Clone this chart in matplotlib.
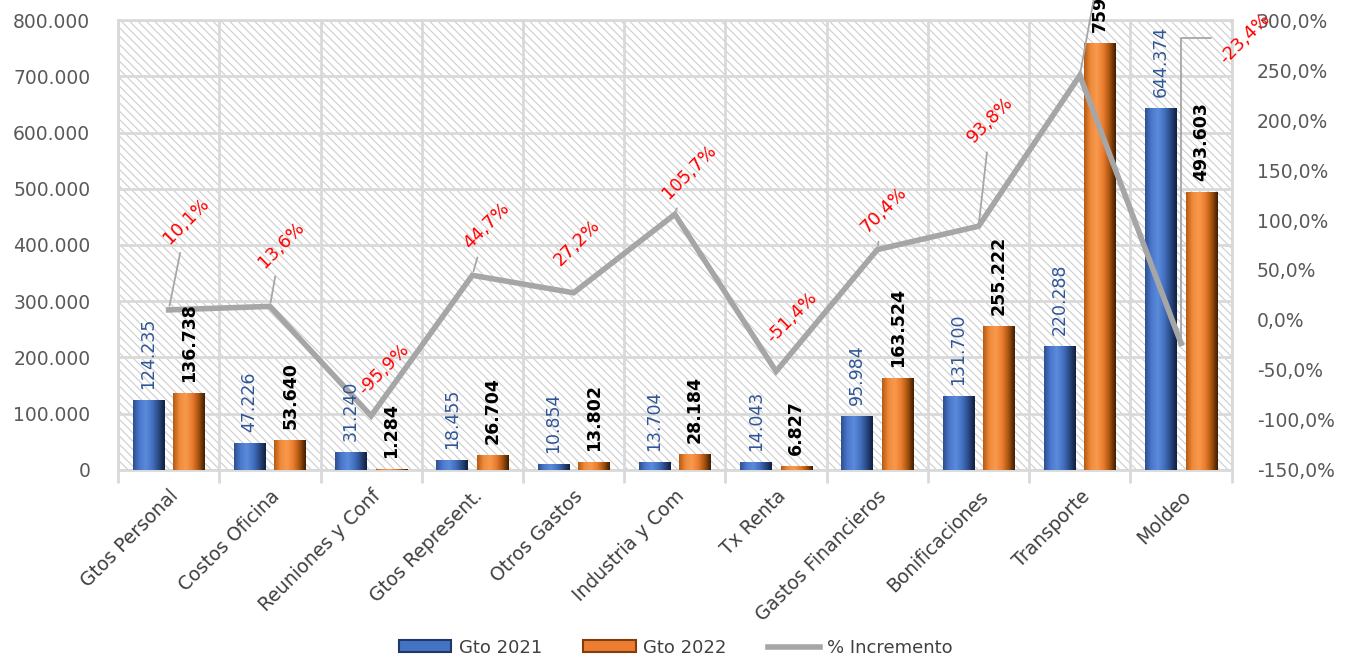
import numpy as np
import matplotlib
matplotlib.use("Agg")
import matplotlib.pyplot as plt
from matplotlib.patches import Patch, Rectangle
from matplotlib.lines import Line2D
from matplotlib.colors import LinearSegmentedColormap

# ─── Datos ───────────────────────────────────────────────────────────────────
categorias = ["Gtos Personal", "Costos Oficina", "Reuniones y Conf", "Gtos Represent.",
              "Otros Gastos", "Industria y Com", "Tx Renta", "Gastos Financieros",
              "Bonificaciones", "Transporte", "Moldeo"]
gto_2021 = [124235, 47226, 31240, 18455, 10854, 13704, 14043, 95984, 131700, 220288, 644374]
gto_2022 = [136738, 53640, 1284, 26704, 13802, 28184, 6827, 163524, 255222, 759150, 493603]
incremento = [10.1, 13.6, -95.9, 44.7, 27.2, 105.7, -51.4, 70.4, 93.8, 244.6, -23.4]

# desplazamiento (px) de cada etiqueta de % respecto a su punto, y si lleva línea guía
off_pct = [(18, 89), (11, 62), (13, 46), (14, 50), (3, 50), (14, 42),
           (16, 54), (6, 40), (12, 106), (22, 120), (64, 305)]
guia_pct = [True, True, False, True, False, True, False, True, True, True, True]

# ─── Estilo ──────────────────────────────────────────────────────────────────
plt.rcParams.update({
    "font.family": "DejaVu Sans",
    "hatch.linewidth": 0.8,
})

AZUL = "#4472C4"
AZUL_TXT = "#2F5597"
NARANJA = "#ED7D31"
GRIS = "#A6A6A6"
REJILLA = "#D9D9D9"
TXT = "#595959"

cmap_azul = LinearSegmentedColormap.from_list(
    "azul", ["#2E4F8F", "#4A78CC", "#5B8BDB", "#4472C4", "#2B4A85", "#0F1F3D"])
cmap_naranja = LinearSegmentedColormap.from_list(
    "naranja", ["#B35A12", "#F08A3A", "#F79A4E", "#ED7D31", "#A8540F", "#3D1C03"])


def miles(v):
    return f"{v:,.0f}".replace(",", ".")


def pct(v):
    return f"{v:.1f}%".replace(".", ",")


def sombrear(ax, barras, cmap):
    grad = np.linspace(0, 1, 128).reshape(1, -1)
    for b in barras:
        x, y, w, h = b.get_x(), b.get_y(), b.get_width(), b.get_height()
        im = ax.imshow(grad, cmap=cmap, aspect="auto", interpolation="bicubic",
                       extent=(x, x + w, y, y + h), zorder=3)
        im.set_clip_path(b)


# ─── Figura ──────────────────────────────────────────────────────────────────
fig = plt.figure(figsize=(13.52, 6.61), dpi=100)
ax = fig.add_axes([0.0873, 0.289, 0.8237, 0.6807])

x = np.arange(len(categorias))
w = 0.31

# fondo rayado
ax.add_patch(Rectangle((0, 0), 1, 1, transform=ax.transAxes, facecolor="white",
                       edgecolor="#CDCDCD", hatch="\\\\\\\\", linewidth=0, zorder=0))

b1 = ax.bar(x - 0.2, gto_2021, w, color=AZUL, zorder=2)
b2 = ax.bar(x + 0.2, gto_2022, w, color=NARANJA, zorder=2)
sombrear(ax, b1, cmap_azul)
sombrear(ax, b2, cmap_naranja)

ax.set_xlim(-0.5, len(categorias) - 0.5)
ax.set_ylim(0, 800000)
ax.set_yticks(np.arange(0, 800001, 100000))
ax.set_yticklabels([miles(v) for v in np.arange(0, 800001, 100000)])
ax.set_xticks(x)
ax.set_xticklabels(categorias, rotation=45, ha="right", rotation_mode="anchor",
                   fontsize=13.5, color="#404040")
ax.set_xticks(np.arange(-0.5, len(categorias), 1), minor=True)
ax.tick_params(axis="x", which="major", length=0, pad=12)
ax.tick_params(axis="x", which="minor", length=9, width=2, color=REJILLA)
ax.tick_params(axis="y", length=0, labelsize=13.5, labelcolor=TXT, pad=20)
ax.grid(True, axis="y", color=REJILLA, lw=2, zorder=1)
ax.grid(True, axis="x", which="minor", color=REJILLA, lw=2, zorder=1)
ax.set_axisbelow(True)
for s in ax.spines.values():
    s.set_color(REJILLA)
    s.set_linewidth(2)

# ─── % Incremento ────────────────────────────────────────────────────────────
ax2 = ax.twinx()
ax2.plot(x, incremento, color=GRIS, lw=4, solid_joinstyle="miter", zorder=4)
ax2.set_ylim(-150, 300)
ax2.set_yticks(np.arange(-150, 301, 50))
ax2.set_yticklabels([pct(v) for v in np.arange(-150, 301, 50)])
ax2.tick_params(axis="y", length=0, labelsize=13.5, labelcolor=TXT, pad=18)
for s in ax2.spines.values():
    s.set_visible(False)

# etiquetas de las barras (encima de la línea)
for xi, v in zip(x, gto_2021):
    ax2.annotate(miles(v), (xi - 0.2, v), xycoords=ax.transData, xytext=(0, 11),
                 textcoords="offset pixels", rotation=90, ha="center", va="bottom",
                 fontsize=12.5, color=AZUL_TXT, zorder=5, annotation_clip=False)
for xi, v in zip(x, gto_2022):
    ax2.annotate(miles(v), (xi + 0.2, v), xycoords=ax.transData, xytext=(0, 11),
                 textcoords="offset pixels", rotation=90, ha="center", va="bottom",
                 fontsize=12.5, color="black", fontweight="bold", zorder=5,
                 annotation_clip=False)

for i, (xi, v, (dx, dy), guia) in enumerate(zip(x, incremento, off_pct, guia_pct)):
    props = None
    if guia:
        props = dict(arrowstyle="-", color=GRIS, lw=1.3, shrinkA=2, shrinkB=3)
        if i == len(x) - 1:
            props["connectionstyle"] = "angle,angleA=0,angleB=90,rad=0"
    ax2.annotate(pct(v), (xi, v), xytext=(dx, dy), textcoords="offset pixels",
                 rotation=45, ha="center", va="center", fontsize=13, color="#FF0000",
                 arrowprops=props, annotation_clip=False, zorder=6)

# ─── Leyenda ─────────────────────────────────────────────────────────────────
handles = [Patch(facecolor=AZUL, edgecolor="#1F3864", lw=1.5),
           Patch(facecolor=NARANJA, edgecolor="#843C0C", lw=1.5),
           Line2D([], [], color=GRIS, lw=4)]
fig.legend(handles, ["Gto 2021", "Gto 2022", "% Incremento"], loc="center",
           bbox_to_anchor=(0.5, 0.02), ncol=3, frameon=False, fontsize=13,
           handlelength=2.9, handleheight=0.65, handletextpad=0.4,
           columnspacing=2.3, labelcolor="#404040")

fig.savefig("out.png", dpi=100)
